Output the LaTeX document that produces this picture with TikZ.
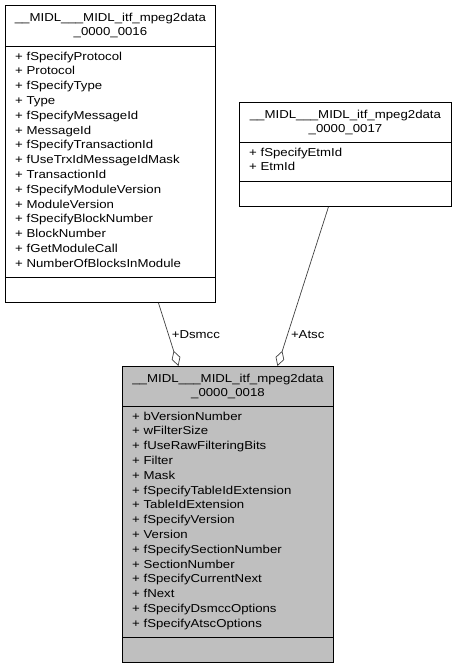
\documentclass[tikz,border=0pt]{standalone}
\usepackage{fontspec}
\setmainfont[FakeStretch=1.15]{Liberation Sans}
\usetikzlibrary{arrows.meta}
\definecolor{boxgray}{HTML}{BFBFBF}
\definecolor{edgegray}{HTML}{404040}

\begin{document}
\begin{tikzpicture}[x=1pt,y=-1pt]
\tikzstyle{classbox} = [rectangle, draw=black, line width=0.9pt, inner sep=0pt,
anchor=north west, minimum width=211pt]
\tikzstyle{titletext} = [align=center, inner sep=0pt,
font=\fontsize{11.5}{14}\selectfont]
\tikzstyle{attrtext} = [align=left, inner sep=0pt, anchor=north west,
font=\fontsize{11.5}{14.8}\selectfont]
\tikzstyle{sep} = [draw=black, line width=0.9pt]
\tikzstyle{aggr} = [draw=edgegray, line width=0.7pt,
{Diamond[open, length=16pt, width=9pt, line width=0.7pt]}-];
\tikzstyle{role} = [right=3pt, inner sep=0pt, font=\fontsize{11.5}{14}\selectfont]
\useasboundingbox (0,0) rectangle (456,668);
% upper left class
\node [classbox, minimum width=210pt, minimum height=297pt] (c16) at (5,5) {};
\node [titletext] (c16t) at ([yshift=-20.5pt]c16.north)
{\_\_MIDL\_\_\_MIDL\_itf\_mpeg2data\\\_0000\_0016};
\path [sep] ([yshift=-41pt]c16.north west) -- ([yshift=-41pt]c16.north east);
\node [attrtext] (c16a) at ([xshift=10pt,yshift=-46.6pt]c16.north west)
{+ fSpecifyProtocol\\+ Protocol\\+ fSpecifyType\\+ Type\\+ fSpecifyMessageId\\
+ MessageId\\+ fSpecifyTransactionId\\+ fUseTrxIdMessageIdMask\\+ TransactionId\\
+ fSpecifyModuleVersion\\+ ModuleVersion\\+ fSpecifyBlockNumber\\+ BlockNumber\\
+ fGetModuleCall\\+ NumberOfBlocksInModule};
\path [sep] ([yshift=25pt]c16.south west) -- ([yshift=25pt]c16.south east);
% upper right class
\node [classbox, minimum width=212pt, minimum height=104pt] (c17) at (239,102) {};
\node [titletext] (c17t) at ([yshift=-20pt]c17.north)
{\_\_MIDL\_\_\_MIDL\_itf\_mpeg2data\\\_0000\_0017};
\path [sep] ([yshift=-40pt]c17.north west) -- ([yshift=-40pt]c17.north east);
\node [attrtext] (c17a) at ([xshift=10pt,yshift=-45.6pt]c17.north west)
{+ fSpecifyEtmId\\+ EtmId};
\path [sep] ([yshift=25pt]c17.south west) -- ([yshift=25pt]c17.south east);
% lower class
\node [classbox, fill=boxgray, minimum width=211pt, minimum height=296pt] (c18) at (122,366) {};
\node [titletext] (c18t) at ([yshift=-20pt]c18.north)
{\_\_MIDL\_\_\_MIDL\_itf\_mpeg2data\\\_0000\_0018};
\path [sep] ([yshift=-40pt]c18.north west) -- ([yshift=-40pt]c18.north east);
\node [attrtext] (c18a) at ([xshift=10pt,yshift=-45.6pt]c18.north west)
{+ bVersionNumber\\+ wFilterSize\\+ fUseRawFilteringBits\\+ Filter\\+ Mask\\
+ fSpecifyTableIdExtension\\+ TableIdExtension\\+ fSpecifyVersion\\+ Version\\
+ fSpecifySectionNumber\\+ SectionNumber\\+ fSpecifyCurrentNext\\+ fNext\\
+ fSpecifyDsmccOptions\\+ fSpecifyAtscOptions};
\path [sep] ([yshift=25pt]c18.south west) -- ([yshift=25pt]c18.south east);
% aggregations
\path [aggr] ([xshift=-49.5pt]c18.north) -- node [role, pos=0.5] {+Dsmcc}
([xshift=48pt]c16.south);
\path [aggr] ([xshift=49.5pt]c18.north) -- node [role, pos=0.2] {+Atsc}
([xshift=-17pt]c17.south);
\end{tikzpicture}
\end{document}
